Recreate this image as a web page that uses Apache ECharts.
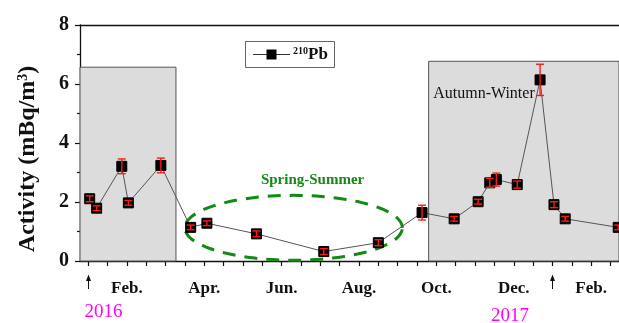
<!DOCTYPE html>
<html><head><meta charset="utf-8">
<script src="https://cdn.jsdelivr.net/npm/echarts@6/dist/echarts.min.js"></script>
<style>html,body{margin:0;padding:0;background:#fff}#c{width:619px;height:323px}</style>
</head><body><div id="c"></div>
<script>
// Sampling dates in months since 1 Jan 2016, 210Pb activity (mBq/m3) and its uncertainty
const sampleMonths = [0.04, 0.22, 0.87, 1.04, 1.88, 2.65, 3.07, 4.35, 6.09, 7.50, 8.63, 9.46, 10.08, 10.38, 10.55, 11.09, 11.68, 12.04, 12.33, 13.70];
const activity     = [2.11, 1.79, 3.21, 1.97, 3.24, 1.14, 1.28, 0.92, 0.32, 0.62, 1.64, 1.43, 2.01, 2.65, 2.76, 2.59, 6.14, 1.91, 1.43, 1.14];
const activityErr  = [0.10, 0.08, 0.25, 0.08, 0.25, 0.08, 0.08, 0.10, 0.10, 0.10, 0.25, 0.08, 0.08, 0.15, 0.22, 0.12, 0.53, 0.10, 0.08, 0.08];

// Month labels on the time axis
const monthTicks = [1, 3, 5, 7, 9, 11, 13];
const monthNames = ['Feb.', 'Apr.', 'Jun.', 'Aug.', 'Oct.', 'Dec.', 'Feb.'];
const yearStarts = [0, 12];
const yearNames = ['2016', '2017'];
const yearLabelAt = [0.40, 10.90];

// Autumn-winter shaded periods: [start month, end month, top]
const winterBoxes = [[-0.21, 2.27, 6.57], [8.80, 13.72, 6.77]];
// Spring-summer ellipse: centre (month, activity) and radii
const summerCentre = [5.31, 1.125];
const summerRadii = [2.81, 1.10];

const X_MIN = -0.21, X_MAX = 13.72;
const SERIF = '"Liberation Serif", "Times New Roman", serif';

const halfMonthTicks = [];
for (let m = 0; m <= 13.5; m += 0.5) halfMonthTicks.push(m);

const chart = echarts.init(document.getElementById('c'));

const points = sampleMonths.map((m, i) => [m, activity[i], activityErr[i]]);

chart.setOption({
  animation: false,
  grid: { left: 80, right: 0, top: 25, bottom: 62 },
  xAxis: [{
    type: 'value', min: X_MIN, max: X_MAX,
    axisLine: { onZero: false, lineStyle: { color: '#111', width: 1.3 } },
    axisTick: { customValues: halfMonthTicks, length: 5, lineStyle: { color: '#111', width: 1.2 } },
    axisLabel: {
      customValues: monthTicks, margin: 19,
      formatter: v => monthNames[monthTicks.indexOf(v)] || '',
      fontFamily: SERIF, fontWeight: 'bold', fontSize: 17, color: '#111'
    },
    splitLine: { show: false }
  }, {
    type: 'value', min: X_MIN, max: X_MAX, position: 'top',
    axisLine: { show: true, onZero: false, lineStyle: { color: '#111', width: 1.3 } },
    axisTick: { show: false }, axisLabel: { show: false }, splitLine: { show: false }
  }],
  yAxis: {
    type: 'value', min: 0, max: 8, interval: 2,
    axisLine: { show: true, onZero: false, lineStyle: { color: '#111', width: 1.3 } },
    axisTick: { show: true, length: 5, lineStyle: { color: '#111', width: 1.2 } },
    minorTick: { show: true, splitNumber: 2, length: 3, lineStyle: { color: '#111', width: 1.2 } },
    axisLabel: { fontFamily: SERIF, fontWeight: 'bold', fontSize: 20, color: '#111', margin: 11 },
    splitLine: { show: false }
  },
  series: [{
    type: 'custom',
    name: 'ellipse',
    clip: false,
    silent: true,
    z: 3,
    data: [[summerCentre[0], summerCentre[1], summerRadii[0], summerRadii[1]]],
    renderItem(params, api) {
      const cx = api.value(0), cy = api.value(1), rx = api.value(2), ry = api.value(3);
      const pts = [];
      for (let k = 0; k <= 120; k++) {
        const a = k / 120 * Math.PI * 2;
        pts.push(api.coord([cx + rx * Math.cos(a), cy + ry * Math.sin(a)]));
      }
      return {
        type: 'polyline', shape: { points: pts },
        style: { stroke: '#138a13', lineWidth: 3, lineDash: [13, 9], fill: null }
      };
    }
  }, {
    type: 'line',
    name: '210Pb',
    data: points.map(p => [p[0], p[1]]),
    symbol: 'rect', symbolSize: 10,
    itemStyle: { color: '#000', borderColor: '#000' },
    lineStyle: { color: '#555', width: 1 },
    z: 4,
    markArea: {
      silent: true,
      itemStyle: { color: '#dcdcdc', borderColor: '#555', borderWidth: 1 },
      data: winterBoxes.map(b => [{ xAxis: b[0], yAxis: 0 }, { xAxis: b[1], yAxis: b[2] }])
    }
  }, {
    type: 'custom',
    name: 'error',
    clip: false,
    silent: true,
    z: 5,
    data: points,
    renderItem(params, api) {
      const x = api.value(0), y = api.value(1), e = api.value(2);
      const t = api.coord([x, y + e]), b = api.coord([x, y - e]);
      const hw = 4, st = { stroke: '#ff1a1a', lineWidth: 1.4 };
      return {
        type: 'group', children: [
          { type: 'line', shape: { x1: t[0], y1: t[1], x2: b[0], y2: b[1] }, style: st },
          { type: 'line', shape: { x1: t[0] - hw, y1: t[1], x2: t[0] + hw, y2: t[1] }, style: st },
          { type: 'line', shape: { x1: b[0] - hw, y1: b[1], x2: b[0] + hw, y2: b[1] }, style: st }
        ]
      };
    }
  }]
});

const toPx = (x, y) => chart.convertToPixel({ xAxisIndex: 0, yAxisIndex: 0 }, [x, y]);
const axisY = toPx(0, 0)[1];

const graphics = [];

// Y axis title
graphics.push({
  type: 'text', x: 28, y: 159, rotation: Math.PI / 2,
  style: {
    text: '{a|Activity (mBq/m}{s|3}{a|)}',
    align: 'center', verticalAlign: 'middle',
    rich: {
      a: { fontFamily: SERIF, fontWeight: 'bold', fontSize: 24, fill: '#111' },
      s: { fontFamily: SERIF, fontWeight: 'bold', fontSize: 14, fill: '#111', verticalAlign: 'top', padding: [0, 0, 10, 0] }
    }
  }
});

// Year-start arrows and year labels
yearStarts.forEach((m, i) => {
  const px = Math.round(toPx(m, 0)[0]) + 0.5;
  graphics.push({ type: 'line', shape: { x1: px, y1: axisY + 17, x2: px, y2: axisY + 28 }, style: { stroke: '#111', lineWidth: 1 } });
  graphics.push({ type: 'polygon', shape: { points: [[px - 2.5, axisY + 20], [px, axisY + 13.5], [px + 2.5, axisY + 20]] }, style: { fill: '#111' } });
  const lx = toPx(yearLabelAt[i], 0)[0];
  graphics.push({
    type: 'text', x: lx, y: axisY + (i === 0 ? 51 : 55),
    style: { text: yearNames[i], align: 'center', verticalAlign: 'middle', font: '19px ' + SERIF, fill: '#ff00ff' }
  });
});

// Period annotations
const ss = toPx(5.80, 2.73);
graphics.push({
  type: 'text', x: ss[0], y: ss[1], z: 10,
  style: { text: 'Spring-Summer', align: 'center', verticalAlign: 'middle', font: 'bold 15px ' + SERIF, fill: '#138a13' }
});
const aw = toPx(10.23, 5.68);
graphics.push({
  type: 'text', x: aw[0], y: aw[1], z: 10,
  style: { text: 'Autumn-Winter', align: 'center', verticalAlign: 'middle', font: '16px ' + SERIF, fill: '#111' }
});

// Legend box
graphics.push({ type: 'rect', shape: { x: 245.5, y: 41.5, width: 89, height: 26 }, style: { fill: '#fff', stroke: '#666', lineWidth: 1 }, z: 10 });
graphics.push({ type: 'line', shape: { x1: 253, y1: 54.5, x2: 290, y2: 54.5 }, style: { stroke: '#333', lineWidth: 1 }, z: 11 });
graphics.push({ type: 'rect', shape: { x: 266.5, y: 49.5, width: 10, height: 10 }, style: { fill: '#000' }, z: 11 });
graphics.push({
  type: 'text', x: 293, y: 55, z: 11,
  style: {
    text: '{s|210}{p|Pb}', verticalAlign: 'middle',
    rich: {
      s: { fontFamily: SERIF, fontWeight: 'bold', fontSize: 10, fill: '#111', verticalAlign: 'top', padding: [0, 0, 8, 0] },
      p: { fontFamily: SERIF, fontWeight: 'bold', fontSize: 17, fill: '#111' }
    }
  }
});

chart.setOption({ graphic: graphics });
</script>
</body></html>
